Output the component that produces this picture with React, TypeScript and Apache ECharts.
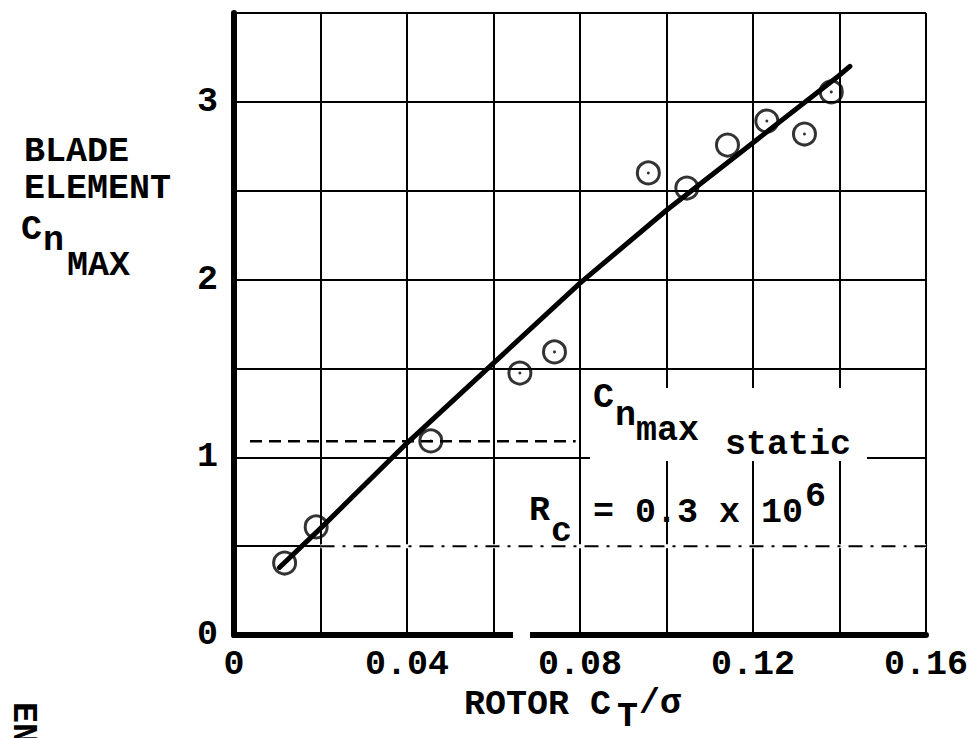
import React, { useEffect, useRef } from "react";
import * as echarts from "echarts";

// Measured data points (rotor CT/sigma vs blade element Cn max)
const ctSigma = [0.0117, 0.019, 0.0455, 0.0661, 0.0741, 0.0958, 0.1047, 0.1141, 0.1232, 0.1319, 0.1381];
const cnMax = [0.405, 0.608, 1.092, 1.474, 1.593, 2.6, 2.515, 2.757, 2.892, 2.819, 3.056];
const hasDot = [true, false, true, true, true, true, false, false, true, true, true];

// Faired curve
const fitX = [0.0105, 0.02, 0.04, 0.06, 0.08, 0.1, 0.12, 0.14, 0.1424];
const fitY = [0.38, 0.6, 1.08, 1.53, 1.98, 2.39, 2.77, 3.15, 3.2];

// Cn max static reference line
const staticX = [0.0037, 0.079];
const staticY = 1.09;

// Dash-dot part of the 0.5 grid line
const halfLineX = [0.02, 0.16];
const halfLineY = 0.5;

const xLabelTicks = [0, 0.04, 0.08, 0.12, 0.16];
const yLabelTicks = [0, 1, 2, 3];

const FONT = '"Liberation Mono", "Courier New", monospace';
const FS = 35;

export default function App() {
  const ref = useRef<HTMLDivElement>(null);

  useEffect(() => {
    if (!ref.current) return;
    const chart = echarts.init(ref.current, undefined, { renderer: "svg" });

    const txt = (text: string, x: number, y: number, extra: any = {}) => ({
      type: "text",
      x,
      y,
      z: 100,
      ...extra,
      style: {
        text,
        font: `bold ${FS}px ${FONT}`,
        fill: "#000",
        align: "left",
        verticalAlign: "middle",
        textAlign: "left",
        textVerticalAlign: "middle",
      },
    });

    const option: any = {
      animation: false,
      backgroundColor: "#fff",
      grid: { left: 234, top: 13, width: 700, height: 622, containLabel: false },
      xAxis: {
        type: "value",
        min: 0,
        max: 0.16,
        interval: 0.02,
        axisLine: { show: true, onZero: false, lineStyle: { color: "#000", width: 6 } },
        axisTick: { show: false },
        splitLine: { show: true, lineStyle: { color: "#000", width: 2 } },
        axisLabel: {
          color: "#000",
          fontFamily: FONT,
          fontWeight: "bold",
          fontSize: FS,
          margin: 12,
          formatter: (v: number) => {
            const hit = xLabelTicks.find((t) => Math.abs(t - v) < 1e-9);
            if (hit === undefined) return "";
            return hit === 0 ? "0" : hit.toFixed(2);
          },
        },
      },
      yAxis: {
        type: "value",
        min: 0,
        max: 3.5,
        interval: 0.5,
        axisLine: { show: true, onZero: false, lineStyle: { color: "#000", width: 6 } },
        axisTick: { show: false },
        splitLine: { show: true, lineStyle: { color: "#000", width: 2 } },
        axisLabel: {
          color: "#000",
          fontFamily: FONT,
          fontWeight: "bold",
          fontSize: FS,
          margin: 16,
          formatter: (v: number) => {
            const hit = yLabelTicks.find((t) => Math.abs(t - v) < 1e-9);
            return hit === undefined ? "" : String(hit);
          },
        },
      },
      series: [
        {
          type: "line",
          data: halfLineX.map((x) => [x, halfLineY]),
          symbol: "none",
          lineStyle: { color: "#fff", width: 4 },
          z: 1,
        },
        {
          type: "line",
          data: halfLineX.map((x) => [x, halfLineY]),
          symbol: "none",
          lineStyle: { color: "#000", width: 2, type: [14, 8, 3, 8] },
          z: 1,
        },
        {
          type: "line",
          data: staticX.map((x) => [x, staticY]),
          symbol: "none",
          lineStyle: { color: "#000", width: 2.5, type: [12, 7] },
          z: 2,
        },
        {
          type: "scatter",
          data: ctSigma.map((x, i) => [x, cnMax[i]]),
          symbol: "circle",
          symbolSize: 22,
          itemStyle: { color: "rgba(0,0,0,0)", borderColor: "#000", borderWidth: 3 },
          z: 3,
        },
        {
          type: "scatter",
          data: ctSigma.map((x, i) => [x, cnMax[i]]).filter((_, i) => hasDot[i]),
          symbol: "circle",
          symbolSize: 3,
          itemStyle: { color: "#000" },
          z: 4,
        },
        {
          type: "line",
          data: fitX.map((x, i) => [x, fitY[i]]),
          symbol: "none",
          lineStyle: { color: "#000", width: 5, cap: "round" },
          z: 5,
        },
      ],
      graphic: [
        { type: "rect", z: 1, shape: { x: 590, y: 388, width: 277, height: 73 }, style: { fill: "#fff" } },
        { type: "rect", z: 1, shape: { x: 513, y: 629, width: 17, height: 12 }, style: { fill: "#fff" } },
        // y axis title
        txt("BLADE", 24, 152),
        txt("ELEMENT", 24, 189),
        txt("C", 21, 230),
        txt("n", 43, 241),
        txt("MAX", 67, 266),
        // annotation
        txt("C", 593, 398),
        txt("n", 615, 416),
        txt("max", 636, 431),
        txt("static", 725, 445),
        txt("R", 529, 511),
        txt("c", 551, 532),
        txt("= 0.3 x 10", 593, 513),
        txt("6", 805, 497),
        // x axis title
        txt("ROTOR C", 464, 705),
        txt("T", 617, 717),
        txt("/\u03c3", 639, 704),
        // cut-off rotated text at the page edge
        txt("ENT", 23, 702, { rotation: -Math.PI / 2 }),
      ],
    };

    chart.setOption(option);
    return () => chart.dispose();
  }, []);

  return (
    <div
      ref={ref}
      style={{ position: "absolute", left: 0, top: 0, width: 971, height: 738, background: "#fff" }}
    />
  );
}
